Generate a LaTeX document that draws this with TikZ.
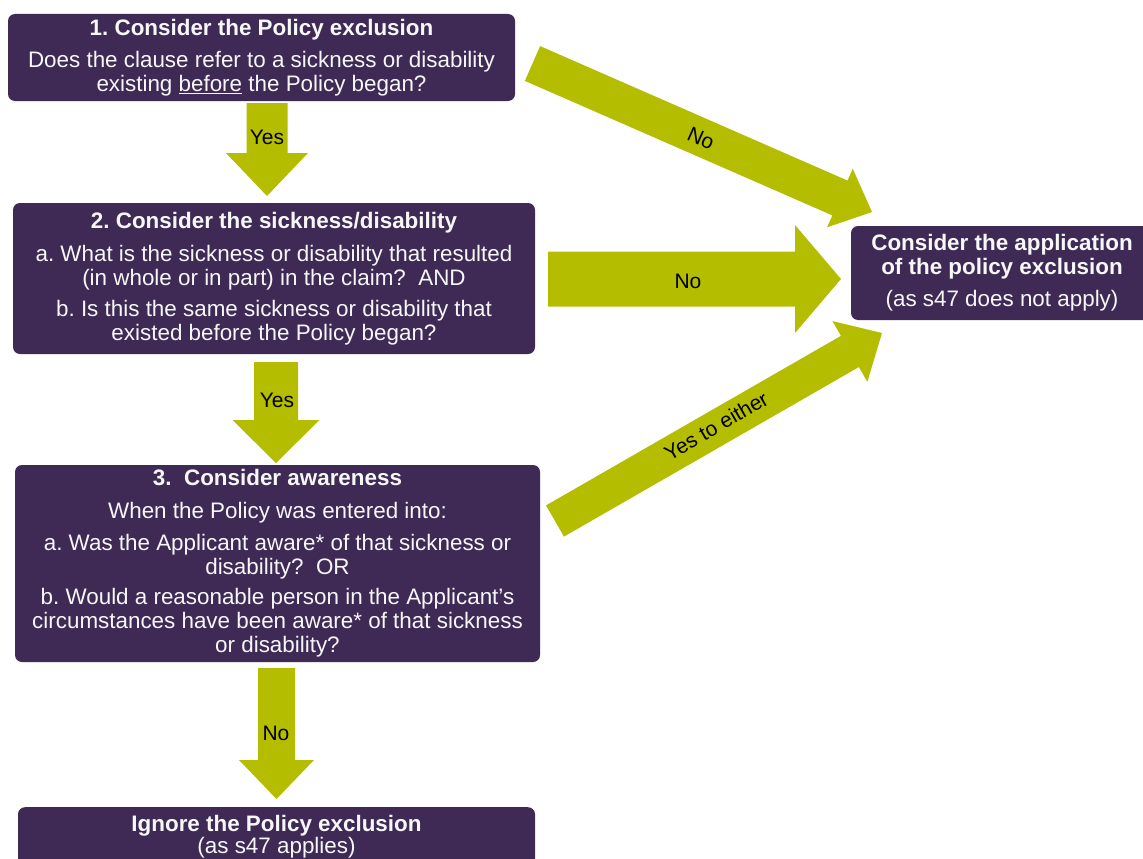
\documentclass[tikz,border=0pt]{standalone}
\usepackage{fontspec}
\setmainfont{Liberation Sans}
\usetikzlibrary{calc}
\frenchspacing
\definecolor{plum}{HTML}{3F2A56}
\definecolor{arrowgreen}{HTML}{B5BD00}
\newcommand\fatarrow[5]{% start, end, shaft width, head width, head length
  \path ($(#2)!#5pt!(#1)$) coordinate (fabase);
  \fill[arrowfill] ($(#1)!#3*0.5pt!90:(#2)$) -- ($(fabase)!#3*0.5pt!90:(#2)$)
    -- ($(fabase)!#4*0.5pt!90:(#2)$) -- (#2) -- ($(fabase)!#4*0.5pt!-90:(#2)$)
    -- ($(fabase)!#3*0.5pt!-90:(#2)$) -- ($(#1)!#3*0.5pt!-90:(#2)$) -- cycle;}
\begin{document}
\begin{tikzpicture}[x=1pt,y=-1pt,
  box/.style={fill=plum, rounded corners=7pt, inner sep=0pt, text=white!96!plum,
    align=center, font=\fontsize{22.4}{24}\selectfont},
  lab/.style={font=\fontsize{21}{24}\selectfont, text=black, inner sep=0pt},
  arrowfill/.style={fill=arrowgreen}]
\useasboundingbox (0,0) rectangle (1143,859);
\clip (0,0) rectangle (1143,859);
\fill[white] (0,0) rectangle (1143,859);

% boxes
\node[box, minimum width=507pt, minimum height=87pt] (b1) at (261.5,57.5)
  {\textbf{1. Consider the Policy exclusion}\\[8pt]
   Does the clause refer to a sickness or disability\\
   existing \underline{before} the Policy began?};
\node[box, minimum width=522pt, minimum height=151pt] (b2) at (274,278.5)
  {\textbf{2. Consider the sickness/disability}\\[9pt]
   a. What is the sickness or disability that resulted\\
   (in whole or in part) in the claim?\ \ AND\\[7pt]
   b. Is this the same sickness or disability that\\
   existed before the Policy began?};
\node[box, minimum width=525pt, minimum height=197pt] (b3) at (277.5,563.5)
  {\textbf{3.\ \ Consider awareness}\\[9pt]
   When the Policy was entered into:\\[8pt]
   a. Was the Applicant aware* of that sickness or\\
   disability?\ \ OR\\[6pt]
   b. Would a reasonable person in the Applicant’s\\
   circumstances have been aware* of that sickness\\
   or disability?};
\node[box, minimum width=302pt, minimum height=94pt] (bR) at (1002,273)
  {\textbf{Consider the application}\\
   \textbf{of the policy exclusion}\\[8pt]
   (as s47 does not apply)};
\node[box, anchor=north, minimum width=517pt, inner ysep=8pt] (b4) at (276.5,807)
  {\textbf{Ignore the Policy exclusion}\\[-2pt]
   (as s47 applies)};

% arrow end points
\coordinate (a1s) at (267,103);   \coordinate (a1e) at (267,196);
\coordinate (a2s) at (276,362);   \coordinate (a2e) at (276,463);
\coordinate (a3s) at (276.5,668); \coordinate (a3e) at (276.5,799);
\coordinate (a4s) at (548,279);   \coordinate (a4e) at (841,279);
\coordinate (a5s) at (532.5,63.5);\coordinate (a5e) at (872,212);
\coordinate (a6s) at (555,521);   \coordinate (a6e) at (882,333);

\fatarrow{a1s}{a1e}{41}{82}{43}
\fatarrow{a2s}{a2e}{44}{87}{43}
\fatarrow{a3s}{a3e}{37}{75}{39}
\fatarrow{a4s}{a4e}{55}{108}{46}
\fatarrow{a5s}{a5e}{38}{64}{35}
\fatarrow{a6s}{a6e}{36}{70}{37}

% labels
\node[lab] (l1) at (267,137) {Yes};
\node[lab] (l2) at (277,400) {Yes};
\node[lab] (l3) at (276,733) {No};
\node[lab] (l4) at (688,281) {No};
\node[lab, rotate=-24] (l5) at (701,138) {No};
\node[lab, rotate=30] (l6) at (716,426) {Yes to either};
\end{tikzpicture}
\end{document}
